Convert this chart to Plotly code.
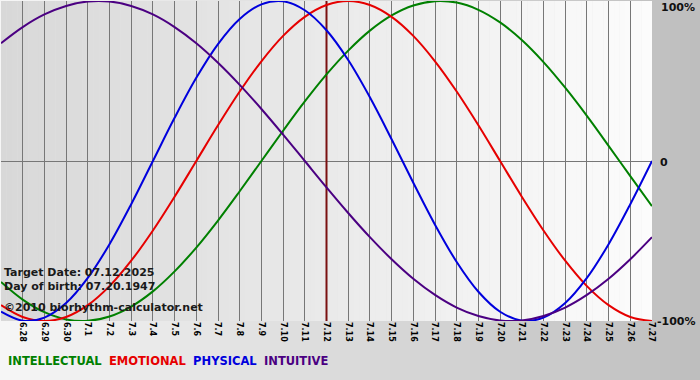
import plotly.graph_objects as go

# ---- data ----
dates = ["6.27", "6.28", "6.29", "6.30", "7.1", "7.2", "7.3", "7.4", "7.5", "7.6",
         "7.7", "7.8", "7.9", "7.10", "7.11", "7.12", "7.13", "7.14", "7.15", "7.16",
         "7.17", "7.18", "7.19", "7.20", "7.21", "7.22", "7.23", "7.24", "7.25", "7.26",
         "7.27"]
target_date = "7.12"

physical = [-0.942, -0.998, -0.979, -0.888, -0.731, -0.520, -0.270, 0.000, 0.270, 0.520,
            0.731, 0.888, 0.979, 0.998, 0.942, 0.817, 0.631, 0.398, 0.136, -0.136,
            -0.398, -0.631, -0.817, -0.942, -0.998, -0.979, -0.888, -0.731, -0.520, -0.270,
            0.000]
emotional = [-0.901, -0.975, -1.000, -0.975, -0.901, -0.782, -0.623, -0.434, -0.223, 0.000,
             0.223, 0.434, 0.623, 0.782, 0.901, 0.975, 1.000, 0.975, 0.901, 0.782,
             0.623, 0.434, 0.223, 0.000, -0.223, -0.434, -0.623, -0.782, -0.901, -0.975,
             -1.000]
intellectual = [-0.756, -0.866, -0.945, -0.990, -0.999, -0.972, -0.910, -0.815, -0.690, -0.541,
                -0.372, -0.189, 0.000, 0.189, 0.372, 0.541, 0.690, 0.815, 0.910, 0.972,
                0.999, 0.990, 0.945, 0.866, 0.756, 0.618, 0.458, 0.282, 0.095, -0.095,
                -0.282]
intuitive = [0.736, 0.837, 0.916, 0.969, 0.997, 0.997, 0.969, 0.916, 0.837, 0.736,
             0.614, 0.476, 0.325, 0.165, 0.000, -0.165, -0.325, -0.476, -0.614, -0.736,
             -0.837, -0.916, -0.969, -0.997, -0.997, -0.969, -0.916, -0.837, -0.736, -0.614,
             -0.476]

series_names = ["INTELLECTUAL", "EMOTIONAL", "PHYSICAL", "INTUITIVE"]
series_colors = ["#008000", "#e60000", "#0000dd", "#4b0082"]
y_labels = ["100%", "0", "-100%"]
info_lines = ["Target Date: 07.12.2025", "Day of birth: 07.20.1947",
              "\u00a92010 biorhythm-calculator.net"]

W, H = 700, 380
ML, MR, MT, MB = 1, 48, 1, 59
PW, PH = W - ML - MR, H - MT - MB

xs = list(range(len(dates)))
n = len(dates) - 1


def gray(v):
    v = int(round(v))
    return f"rgb({v},{v},{v})"


shapes = []
# paper background gradient (whole canvas)
NS = 70
for i in range(NS):
    px0 = i * W / NS
    px1 = (i + 1) * W / NS + 0.6
    c = 246 - (246 - 190) * (i + 0.5) / NS
    shapes.append(dict(type="rect", xref="paper", yref="paper",
                       x0=(px0 - ML) / PW, x1=(px1 - ML) / PW,
                       y0=-(MB + 2) / PH, y1=(PH + MT + 2) / PH,
                       fillcolor=gray(c), line=dict(width=0), layer="below"))
# plot-area gradient
NP = 120
for i in range(NP):
    a0 = n * i / NP
    a1 = n * (i + 1) / NP + 0.02
    c = 216 - (216 - 252) * (i + 0.5) / NP
    shapes.append(dict(type="rect", xref="x", yref="paper",
                       x0=a0, x1=a1, y0=0, y1=1,
                       fillcolor=gray(c), line=dict(width=0), layer="below"))

fig = go.Figure()

ti = dates.index(target_date)
fig.add_trace(go.Scatter(x=[ti, ti], y=[-1.05, 1.05], mode="lines",
                         line=dict(color="#7a1010", width=2), hoverinfo="skip",
                         showlegend=False))

for name, vals, col in zip(series_names, [intellectual, emotional, physical, intuitive],
                           series_colors):
    fig.add_trace(go.Scatter(x=xs, y=vals, mode="lines", name=name,
                             line=dict(color=col, width=2, shape="spline", smoothing=1.0),
                             showlegend=False))

annotations = []
# right-side percentage labels
label_pos = [  # (y value, x pixel, xanchor, yanchor, yshift)
    (1, 697, "right", "top", 2),
    (0, 658, "left", "middle", -1),
    (-1, 698, "right", "middle", 0),
]
for lab, (yv, px, xa, ya, ys) in zip(y_labels, label_pos):
    annotations.append(dict(x=(px - ML) / PW, xref="paper", xanchor=xa,
                            y=yv, yref="y", yanchor=ya, yshift=ys, text=f"<b>{lab}</b>",
                            showarrow=False,
                            font=dict(family="DejaVu Sans", size=11, color="#111111")))

info_y = [272, 286, 307]
for t, py in zip(info_lines, info_y):
    annotations.append(dict(x=(2 - ML) / PW, xref="paper", xanchor="left",
                            y=(PH + MT - py) / PH, yref="paper", yanchor="middle",
                            text=f"<b>{t}</b>", showarrow=False,
                            font=dict(family="DejaVu Sans", size=11, color="#1a1a1a")))

legend_html = "  ".join(f"<span style='color:{c}'><b>{nm}</b></span>"
                        for nm, c in zip(series_names, series_colors))
annotations.append(dict(x=(6 - ML) / PW, xref="paper", xanchor="left",
                        y=(PH + MT - 361) / PH, yref="paper", yanchor="middle",
                        text=legend_html, showarrow=False,
                        font=dict(family="DejaVu Sans", size=11.5)))

fig.update_layout(
    width=W, height=H,
    margin=dict(l=ML, r=MR, t=MT, b=MB, pad=0),
    paper_bgcolor="#d8d8d8",
    plot_bgcolor="rgba(0,0,0,0)",
    shapes=shapes,
    annotations=annotations,
    showlegend=False,
    xaxis=dict(range=[0, n], tickmode="array", tickvals=xs,
               ticktext=[f"<b>{d}</b>" for d in dates],
               tickangle=90, showgrid=True, gridcolor="#777777", gridwidth=1,
               zeroline=False, showline=False, ticks="", fixedrange=True,
               tickfont=dict(family="DejaVu Sans", size=8, color="#000000")),
    yaxis=dict(range=[-1, 1], showgrid=False, zeroline=True, zerolinecolor="#777777",
               zerolinewidth=1, showticklabels=False, ticks="", showline=False,
               fixedrange=True),
)

fig.write_html("out.html", config={"staticPlot": True},
               post_script="document.body.style.margin='0';document.body.style.overflow='hidden';")
